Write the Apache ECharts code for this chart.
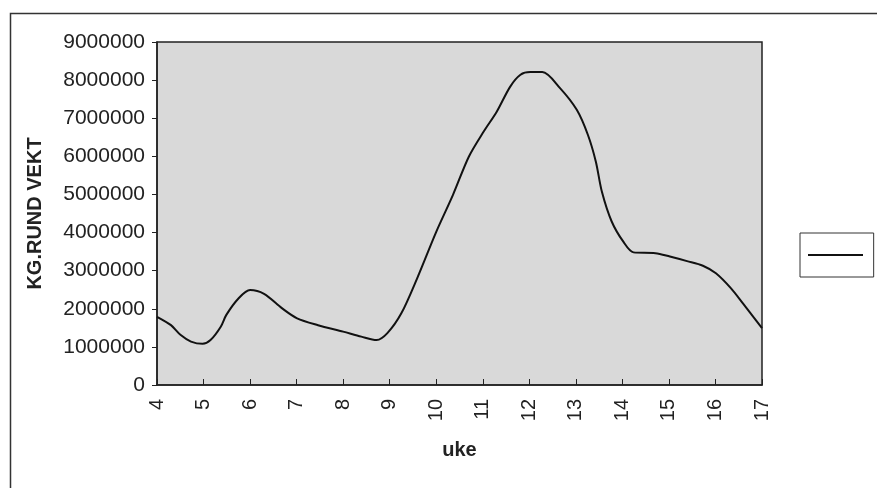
<!DOCTYPE html>
<html>
<head>
<meta charset="utf-8">
<script src="https://cdn.jsdelivr.net/npm/echarts@6/dist/echarts.min.js"></script>
<style>
  html, body { margin: 0; padding: 0; background: #fff; }
  #chart { width: 877px; height: 488px; }
</style>
</head>
<body>
<div id="chart"></div>
<script>
// uke (week) positions read along the curve, and weight in kg
const weeks = [4.0, 4.3, 4.51, 4.73, 4.98, 5.15, 5.37, 5.49, 5.75, 6.0, 6.3, 6.69, 7.01, 7.46, 8.0,
  8.39, 8.72, 8.95, 9.25, 9.59, 10.0, 10.36, 10.7, 11.02, 11.3, 11.59, 11.81, 12.02, 12.28, 12.66,
  13.02, 13.26, 13.43, 13.56, 13.77, 14.02, 14.24, 14.71, 15.02, 15.39, 15.73, 16.01, 16.33, 16.59, 17.0]
const kgValues = [1790000, 1570000, 1310000, 1140000, 1080000, 1180000, 1530000, 1840000, 2270000, 2490000,
  2390000, 2010000, 1750000, 1570000, 1400000, 1270000, 1180000, 1360000, 1880000, 2800000,
  4020000, 4990000, 5990000, 6650000, 7170000, 7830000, 8140000, 8210000, 8210000, 7790000,
  7220000, 6560000, 5860000, 5070000, 4290000, 3760000, 3480000, 3460000, 3370000, 3250000,
  3130000, 2930000, 2540000, 2140000, 1490000]

const chart = echarts.init(document.getElementById('chart'))
const font = 'Liberation Sans, Arial, sans-serif'

chart.setOption({
  backgroundColor: '#fff',
  animation: false,
  graphic: [{
    type: 'rect',
    left: 8, top: 11,
    shape: { width: 900, height: 600 },
    style: { fill: 'none', stroke: '#333', lineWidth: 1.5 }
  }],
  legend: {
    left: 800, top: 233,
    padding: [19, 4, 19, 8],
    itemWidth: 55, itemHeight: 2, itemGap: 0,
    borderColor: '#333', borderWidth: 1,
    backgroundColor: '#fff',
    textStyle: { fontSize: 6 },
    data: [{ name: ' ', icon: 'rect', itemStyle: { color: '#111' } }]
  },
  grid: {
    left: 157, right: 115, top: 42, bottom: 103,
    show: true,
    backgroundColor: '#d9d9d9',
    borderColor: '#222', borderWidth: 1.5
  },
  xAxis: {
    type: 'value',
    min: 4, max: 17, interval: 1,
    name: 'uke',
    nameLocation: 'middle',
    nameGap: 55,
    nameTextStyle: { fontFamily: font, fontSize: 20, fontWeight: 'bold', color: '#222' },
    axisLine: { lineStyle: { color: '#222', width: 1.5 } },
    axisTick: { inside: true, length: 6, lineStyle: { color: '#222' } },
    axisLabel: { rotate: 90, margin: 14, fontFamily: font, fontSize: 20, color: '#222' },
    splitLine: { show: false }
  },
  yAxis: {
    type: 'value',
    min: 0, max: 9000000, interval: 1000000,
    name: 'KG.RUND VEKT',
    nameLocation: 'middle',
    nameGap: 112,
    nameTextStyle: { fontFamily: font, fontSize: 20, fontWeight: 'bold', color: '#222' },
    axisLine: { show: true, lineStyle: { color: '#222', width: 1.5 } },
    axisTick: { show: true, length: 5, lineStyle: { color: '#222' } },
    axisLabel: { margin: 12, fontFamily: font, fontSize: 21, color: '#222', formatter: v => String(v) },
    splitLine: { show: false }
  },
  series: [{
    name: ' ',
    type: 'line',
    smooth: 0.3,
    showSymbol: false,
    lineStyle: { color: '#111', width: 2 },
    data: weeks.map((w, i) => [w, kgValues[i]])
  }]
})
</script>
</body>
</html>
